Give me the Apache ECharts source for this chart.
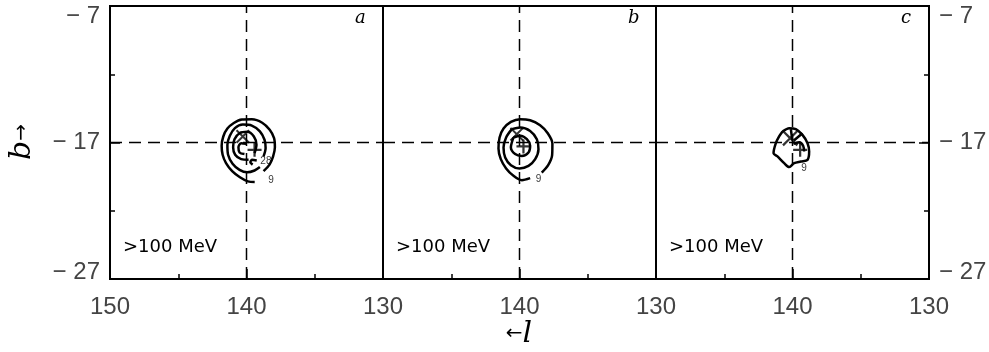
<!DOCTYPE html>
<html>
<head>
<meta charset="utf-8">
<script src="https://cdn.jsdelivr.net/npm/echarts@6/dist/echarts.min.js"></script>
<style>
    html, body { margin: 0; padding: 0; background: #fff; }
    #chart { width: 989px; height: 352px; }
</style>
</head>
<body>
<div id="chart"></div>
<script>
    // axis ranges and tick labels
    var lRange = [130, 150];
    var bRange = [-27, -7];
    var lTicks = [150, 140, 130];
    var bTicks = [-27, -17, -7];
    var crossL = 140;
    var crossB = -17;
    var panelNames = ['a', 'b', 'c'];
    var energyText = '>100 MeV';

    // contours, [l, b] in degrees
    var aRing1 = [[138.75,-19.10],[138.30,-18.60],[138.05,-18.02],[137.92,-17.34],[137.98,-16.68],[138.30,-16.07],[138.85,-15.55],[139.61,-15.30],[140.34,-15.32],[140.93,-15.57],[141.40,-15.98],[141.70,-16.56],[141.82,-17.24],[141.75,-17.90],[141.50,-18.51],[141.05,-19.10],[140.48,-19.55],[139.90,-19.85],[139.40,-19.90]];
    var aRing2 = [[138.75,-18.02],[138.60,-17.41],[138.68,-16.80],[139.02,-16.18],[139.61,-15.76],[140.27,-15.69],[140.85,-15.95],[141.22,-16.51],[141.40,-17.17],[141.35,-17.90],[141.02,-18.55],[140.51,-19.00],[139.95,-19.18],[139.41,-19.05],[139.02,-18.80]];
    var aRing3 = [[139.41,-17.78],[139.27,-17.17],[139.46,-16.56],[139.95,-16.22],[140.51,-16.32],[140.88,-16.76],[140.98,-17.34],[140.83,-17.90],[140.39,-18.22],[139.85,-18.27]];
    var aRing4 = [[140.02,-17.10],[140.39,-17.05],[140.59,-17.34],[140.51,-17.73],[140.15,-17.85]];
    var aRing5 = [[139.25,-18.32],[139.60,-18.27],[139.72,-18.45],[139.55,-18.62]];
    var bRing1 = [[138.37,-19.20],[137.90,-18.66],[137.61,-17.93],[137.59,-17.07],[137.93,-16.32],[138.49,-15.73],[139.22,-15.37],[139.95,-15.29],[140.63,-15.49],[141.17,-15.98],[141.46,-16.63],[141.54,-17.44],[141.37,-18.22],[140.98,-18.90],[140.44,-19.44],[139.83,-19.76],[139.22,-19.61]];
    var bRing2 = [[140.56,-16.02],[139.95,-15.90],[139.22,-16.15],[138.73,-16.76],[138.61,-17.49],[138.85,-18.22],[139.34,-18.71],[140.00,-18.90],[140.63,-18.66],[141.05,-18.10],[141.17,-17.37],[140.98,-16.63],[140.56,-16.02]];
    var bRing3 = [[140.44,-16.63],[139.95,-16.51],[139.46,-16.76],[139.22,-17.24],[139.34,-17.73],[139.83,-17.98],[140.32,-17.85],[140.63,-17.37],[140.44,-16.63]];
    var cRing1 = [[140.73,-16.20],[140.24,-15.95],[139.76,-16.02],[139.27,-16.44],[138.90,-17.05],[138.78,-17.66],[138.90,-18.27],[139.39,-18.39],[139.88,-18.51],[140.24,-18.80],[140.61,-18.51],[141.10,-18.02],[141.39,-17.78],[141.22,-17.05],[140.98,-16.56],[140.73,-16.20]];
    var cRing2 = [[139.93,-17.10],[139.51,-16.98],[139.22,-17.24],[139.15,-17.66]];
    var cSpokes = [[140.12,-16.02],[140.02,-16.80],null,[139.27,-16.32],[139.90,-16.85]];

    // source positions per panel
    var crossMarks = [[140.27,-16.56],[140.20,-16.39],[140.17,-16.68]];
    var plusMarks = [[139.41,-17.54],[139.71,-17.29],[139.44,-17.54]];

    // contour level labels per panel: [l, b, text]
    var aLevels = [[138.58,-18.39,'28'],[138.20,-19.73,'9']];
    var bLevels = [[138.61,-19.68,'9']];
    var cLevels = [[139.15,-18.88,'9']];

    var panelRings = [[aRing1, aRing2, aRing3, aRing4, aRing5], [bRing1, bRing2, bRing3], [cRing1, cRing2, cSpokes]];
    var panelLevels = [aLevels, bLevels, cLevels];

    var left0 = 110, pw = 273, top0 = 6, ph = 273;
    var lblFont = 'Liberation Sans';
    var plusPath = 'path://M4.2,0H5.8V4.2H10V5.8H5.8V10H4.2V5.8H0V4.2H4.2Z';
    var xPath = 'path://M0,1L1,0L5,4L9,0L10,1L6,5L10,9L9,10L5,6L1,10L0,9L4,5Z';

    var grids = [], xAxes = [], yAxes = [], series = [], graphics = [];

    panelNames.forEach(function (name, i) {
        grids.push({
            left: left0 + i * pw, top: top0, width: pw, height: ph,
            outerBoundsMode: 'none', containLabel: false,
            show: true, borderColor: '#000', borderWidth: 2, backgroundColor: 'transparent'
        });
        xAxes.push({
            gridIndex: i, type: 'value', min: lRange[0], max: lRange[1], interval: 10, inverse: true,
            axisLine: {show: false},
            splitLine: {show: false},
            axisTick: {show: true, inside: true, length: 10, lineStyle: {color: '#000', width: 1.5}},
            minorTick: {show: true, splitNumber: 2, length: 5, lineStyle: {color: '#000', width: 1.5}},
            axisLabel: {
                show: true, margin: 16, color: '#444', fontFamily: lblFont, fontSize: 24,
                formatter: function (v) {
                    if (i > 0 && v === lTicks[0]) return '';
                    return lTicks.indexOf(v) >= 0 ? String(v) : '';
                }
            }
        });
        var outer = (i === 0 || i === 2);
        yAxes.push({
            gridIndex: i, type: 'value', min: bRange[0], max: bRange[1], interval: 10,
            position: i === 2 ? 'right' : 'left',
            axisLine: {show: false},
            splitLine: {show: false},
            axisTick: {show: outer, inside: true, length: 10, lineStyle: {color: '#000', width: 1.5}},
            minorTick: {show: outer, splitNumber: 2, length: 5, lineStyle: {color: '#000', width: 1.5}},
            axisLabel: {
                show: outer, margin: 10, color: '#444', fontFamily: lblFont, fontSize: 24,
                formatter: function (v) {
                    if (bTicks.indexOf(v) < 0) return '';
                    var txt = '\u2212 ' + Math.abs(v);
                    if (v === bRange[1]) return '{top|' + txt + '}';
                    if (v === bRange[0]) return '{bot|' + txt + '}';
                    return txt;
                },
                rich: {
                    top: {fontSize: 24, fontFamily: lblFont, color: '#444', padding: [20, 0, 0, 0]},
                    bot: {fontSize: 24, fontFamily: lblFont, color: '#444', padding: [0, 0, 14, 0]}
                }
            }
        });

        // dashed crosshair
        series.push({
            type: 'line', xAxisIndex: i, yAxisIndex: i, symbol: 'none', silent: true,
            lineStyle: {color: '#000', width: 1.5, type: [12, 7]},
            data: [[crossL, bRange[0]], [crossL, bRange[1]]]
        });
        series.push({
            type: 'line', xAxisIndex: i, yAxisIndex: i, symbol: 'none', silent: true,
            lineStyle: {color: '#000', width: 1.5, type: [12, 7]},
            data: [[lRange[1], crossB], [lRange[0], crossB]]
        });

        panelRings[i].forEach(function (ring) {
            series.push({
                type: 'line', xAxisIndex: i, yAxisIndex: i, symbol: 'none', smooth: 0.3, silent: true,
                connectNulls: false,
                lineStyle: {color: '#000', width: 2.5},
                data: ring
            });
        });

        series.push({
            type: 'scatter', xAxisIndex: i, yAxisIndex: i, silent: true,
            symbol: xPath, symbolSize: i === 2 ? 16 : 14,
            itemStyle: {color: '#000'},
            data: [crossMarks[i]]
        });
        series.push({
            type: 'scatter', xAxisIndex: i, yAxisIndex: i, silent: true,
            symbol: plusPath, symbolSize: 14,
            itemStyle: {color: '#000'},
            data: [plusMarks[i]]
        });
        series.push({
            type: 'scatter', xAxisIndex: i, yAxisIndex: i, silent: true,
            symbolSize: 0,
            label: {
                show: true, position: 'inside', color: '#000', fontSize: 10, fontFamily: lblFont,
                formatter: function (p) { return p.data[2]; }
            },
            data: panelLevels[i]
        });

        graphics.push({
            type: 'text', left: left0 + i * pw + 245, top: 9,
            style: {text: name, font: 'italic 18px "DejaVu Serif"', fill: '#000'}
        });
        graphics.push({
            type: 'text', left: left0 + i * pw + 13, top: 238,
            style: {text: energyText, font: '18px "DejaVu Sans"', fill: '#000'}
        });
    });

    graphics.push({
        type: 'text', x: 519, y: 334,
        style: {
            text: '{a|\u2190}{l|l}', align: 'center', verticalAlign: 'middle',
            rich: {
                a: {fontSize: 20, fontFamily: 'DejaVu Sans', fill: '#000'},
                l: {fontSize: 30, fontFamily: 'DejaVu Serif', fontStyle: 'italic', fill: '#000'}
            }
        }
    });
    graphics.push({
        type: 'text', x: 22, y: 142, rotation: Math.PI / 2,
        style: {
            text: '{b|b}{a|\u2192}', align: 'center', verticalAlign: 'middle',
            rich: {
                b: {fontSize: 30, fontFamily: 'DejaVu Serif', fontStyle: 'italic', fill: '#000'},
                a: {fontSize: 20, fontFamily: 'DejaVu Sans', fill: '#000'}
            }
        }
    });

    var myChart = echarts.init(document.getElementById('chart'));
    myChart.setOption({
        animation: false,
        backgroundColor: '#fff',
        grid: grids,
        xAxis: xAxes,
        yAxis: yAxes,
        series: series,
        graphic: graphics
    });
</script>
</body>
</html>
